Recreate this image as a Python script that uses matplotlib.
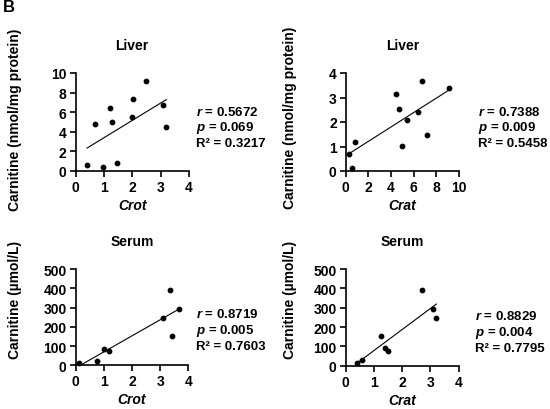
import numpy as np
import matplotlib
matplotlib.use("Agg")
import matplotlib.pyplot as plt

# ── data ──────────────────────────────────────────────────────────────────
liver_crot_x = [0.41, 0.69, 0.97, 1.22, 1.30, 1.48, 1.98, 2.04, 2.48, 3.08, 3.20]
liver_crot_y = [0.6, 4.8, 0.4, 6.4, 5.0, 0.85, 5.5, 7.3, 9.2, 6.7, 4.45]

liver_crat_x = [0.32, 0.56, 0.79, 4.41, 4.73, 4.97, 5.44, 6.35, 6.71, 7.20, 9.12]
liver_crat_y = [0.69, 0.14, 1.17, 3.14, 2.52, 1.03, 2.10, 2.42, 3.67, 1.47, 3.37]

serum_crot_x = [0.12, 0.77, 1.02, 1.17, 3.11, 3.36, 3.42, 3.66]
serum_crot_y = [10, 24, 86, 76, 246, 392, 152, 290]

serum_crat_x = [0.39, 0.58, 1.24, 1.38, 1.50, 2.69, 3.08, 3.21]
serum_crat_y = [12, 29, 153, 90, 76, 390, 292, 245]

stats = [
    ("0.5672", "0.069", "0.3217"),
    ("0.7388", "0.009", "0.5458"),
    ("0.8719", "0.005", "0.7603"),
    ("0.8829", "0.004", "0.7795"),
]

plt.rcParams["font.family"] = "Liberation Sans"
plt.rcParams["font.weight"] = "bold"
plt.rcParams["mathtext.fontset"] = "custom"
plt.rcParams["mathtext.it"] = "Liberation Sans:italic:bold"
plt.rcParams["mathtext.rm"] = "Liberation Sans:bold"

fig = plt.figure(figsize=(5.5, 4.1), dpi=100)

W, H = 550.0, 410.0
def box(x0, y0, x1, y1):
    # pixel box -> figure fraction
    return [x0 / W, 1 - y1 / H, (x1 - x0) / W, (y1 - y0) / H]

panels = [
    dict(rect=box(75.5, 74, 189, 172), x=liver_crot_x, y=liver_crot_y,
         xlim=(0, 4), xt=[0, 1, 2, 3, 4], ylim=(0, 10), yt=[0, 2, 4, 6, 8, 10],
         title="Liver", xlabel="Crot", st=stats[0], sx=196, sy=112),
    dict(rect=box(345.7, 74, 459, 172), x=liver_crat_x, y=liver_crat_y,
         xlim=(0, 10), xt=[0, 2, 4, 6, 8, 10], ylim=(0, 4), yt=[0, 1, 2, 3, 4],
         title="Liver", xlabel="Crat", st=stats[1], sx=478, sy=112),
    dict(rect=box(75.7, 270, 188.3, 366.3), x=serum_crot_x, y=serum_crot_y,
         xlim=(0, 4), xt=[0, 1, 2, 3, 4], ylim=(0, 500), yt=[0, 100, 200, 300, 400, 500],
         title="Serum", xlabel="Crot", st=stats[2], sx=196, sy=315),
    dict(rect=box(345.7, 270, 458.7, 366.7), x=serum_crat_x, y=serum_crat_y,
         xlim=(0, 4), xt=[0, 1, 2, 3, 4], ylim=(0, 500), yt=[0, 100, 200, 300, 400, 500],
         title="Serum", xlabel="Crat", st=stats[3], sx=475, sy=317),
]

for p in panels:
    ax = fig.add_axes(p["rect"])
    x = np.array(p["x"])
    y = np.array(p["y"])
    ax.scatter(x, y, s=10, color="black", zorder=3, clip_on=False)
    k, b = np.polyfit(x, y, 1)
    xx = np.array([x.min(), x.max()])
    ax.plot(xx, k * xx + b, color="black", lw=0.8)
    ax.set_xlim(p["xlim"])
    ax.set_ylim(p["ylim"])
    ax.set_xticks(p["xt"])
    ax.set_yticks(p["yt"])
    for s in ["top", "right"]:
        ax.spines[s].set_visible(False)
    for s in ["left", "bottom"]:
        ax.spines[s].set_linewidth(1.2)
    ax.tick_params(direction="out", length=4, width=1.2, labelsize=10, pad=2.5)
    ax.set_title(p["title"], fontsize=10, fontweight="bold", pad=17)
    ax.set_xlabel(p["xlabel"], fontsize=10, fontstyle="italic", fontweight="bold", labelpad=3)
    r, pv, r2 = p["st"]
    lines = [f"$r$ = {r}", f"$p$ = {pv}", f"R\u00b2 = {r2}"]
    for i, t in enumerate(lines):
        fig.text(p["sx"] / W, 1 - (p["sy"] + 16 * i) / H, t, fontsize=9.5,
                 fontweight="bold", va="center", ha="left")

# y labels
fig.text(15 / W, 1 - 120 / H, "Carnitine (nmol/mg protein)", rotation=90,
         fontsize=10, fontweight="bold", ha="center", va="center")
fig.text(290 / W, 1 - 118 / H, "Carnitine (nmol/mg protein)", rotation=90,
         fontsize=10, fontweight="bold", ha="center", va="center")
fig.text(15 / W, 1 - 300 / H, "Carnitine (\u00b5mol/L)", rotation=90,
         fontsize=10, fontweight="bold", ha="center", va="center")
fig.text(290 / W, 1 - 300 / H, "Carnitine (\u00b5mol/L)", rotation=90,
         fontsize=10, fontweight="bold", ha="center", va="center")

fig.text(3 / W, 1 - 8 / H, "B", fontsize=12, fontweight="bold", va="center", ha="left")

fig.savefig("out.png", dpi=100)
